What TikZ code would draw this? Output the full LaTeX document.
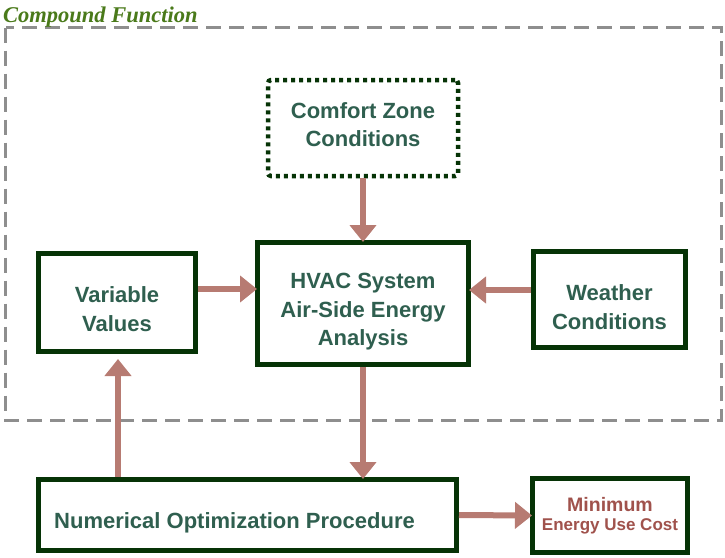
\documentclass[tikz,border=0pt]{standalone}
\usepackage{fontspec}
\setmainfont{Liberation Sans}
\newfontfamily\titlefont{Liberation Serif}
\usetikzlibrary{arrows.meta}
\definecolor{boxgreen}{HTML}{063306}
\definecolor{textgreen}{HTML}{2F5F4F}
\definecolor{arrowrose}{HTML}{B77B72}
\definecolor{costred}{HTML}{A0524C}
\definecolor{framegray}{HTML}{8E8E8E}
\definecolor{titlegreen}{HTML}{4A7A1A}
% stacked lines, moved down by #1 without changing the box size
\newcommand\droplines[2]{\raisebox{-#1}[\height][\depth]{\begin{tabular}{@{}c@{}}#2\end{tabular}}}
\tikzset{
  block/.style={draw=boxgreen, line width=5pt, fill=white, align=center,
    text=textgreen, font=\fontsize{22}{28.5}\selectfont\bfseries, inner sep=0pt},
  dottedblock/.style={block, line width=4.5pt, dash pattern=on 4pt off 4pt, rounded corners=3pt},
  flow/.style={draw=arrowrose, line width=6pt,
    -{Triangle[width=26pt,length=17pt]}, arrowrose},
  frame/.style={draw=framegray, line width=3pt, dash pattern=on 15pt off 8pt}
}
\begin{document}
\begin{tikzpicture}[x=1pt,y=-1pt]
  \useasboundingbox (0,0) rectangle (725,557);
  % dashed boundary of the compound function
  \draw[frame] (5.5,27.5) rectangle (721,420);
  \node[anchor=base west, text=titlegreen, inner sep=0pt,
        font=\titlefont\fontsize{22.5}{26}\selectfont\bfseries\itshape]
        (title) at (3,22) {Compound Function};
  % blocks
  \node[dottedblock, minimum width=190pt, minimum height=96pt] (comfort) at (363,128)
       {\droplines{-1pt}{Comfort Zone\\Conditions}};
  \node[block, minimum width=211pt, minimum height=122pt] (hvac) at (363,303.5)
       {\droplines{8pt}{HVAC System\\Air-Side Energy\\Analysis}};
  \node[block, minimum width=157pt, minimum height=98pt] (var) at (117,302.5)
       {\droplines{9pt}{Variable\\Values}};
  \node[block, minimum width=152pt, minimum height=96pt] (weather) at (609.5,299.5)
       {\droplines{10pt}{Weather\\Conditions}};
  \node[block, minimum width=418pt, minimum height=71pt] (num) at (247.5,515)
       {\hspace*{-26pt}\droplines{8pt}{Numerical Optimization Procedure}};
  \node[block, minimum width=155pt, minimum height=74pt, text=costred,
        font=\bfseries] (min) at (610,515.5)
       {\begin{tabular}{@{}c@{}}%
         {\fontsize{19.5}{20}\selectfont Minimum}\\[3pt]%
         {\fontsize{17}{20}\selectfont Energy Use Cost}\end{tabular}};
  % connectors
  \draw[flow, shorten >=-2pt] (comfort.south) -- (hvac.north);
  \draw[flow, shorten >=-2pt] (var.east |- 0,289) -- (hvac.west |- 0,289);
  \draw[flow, shorten >=-2pt] (weather.west |- 0,290) -- (hvac.east |- 0,290);
  \draw[flow, shorten >=-2pt] (hvac.south) -- (num.north -| hvac.south);
  \draw[flow, shorten >=5pt] (num.north -| 118,0) -- (var.south -| 118,0);
  \draw[flow, shorten >=-2pt] (num.east) -- (min.west);
\end{tikzpicture}
\end{document}
